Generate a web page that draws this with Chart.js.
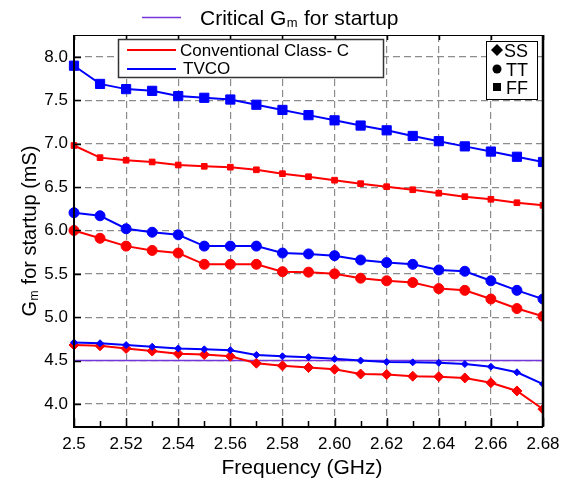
<!DOCTYPE html>
<html>
<head>
<meta charset="utf-8">
<script src="https://cdn.jsdelivr.net/npm/chart.js@4.4.1/dist/chart.umd.min.js"></script>
<style>
  html, body { margin: 0; padding: 0; background: #fff; }
  #wrap { width: 573px; height: 480px; }
</style>
</head>
<body>
<div id="wrap"><canvas id="gmChart" width="573" height="480"></canvas></div>
<script>
'use strict';

// ── DATA ──────────────────────────────────────────────────────────
const FREQ_GHZ = [2.50, 2.51, 2.52, 2.53, 2.54, 2.55, 2.56, 2.57, 2.58, 2.59,
                  2.60, 2.61, 2.62, 2.63, 2.64, 2.65, 2.66, 2.67, 2.68];

const TVCO_FF   = [7.90, 7.69, 7.63, 7.61, 7.55, 7.53, 7.51, 7.45, 7.39, 7.33,
                   7.27, 7.21, 7.155, 7.09, 7.03, 6.97, 6.91, 6.85, 6.79];
const CLASSC_FF = [6.98, 6.84, 6.81, 6.79, 6.755, 6.74, 6.73, 6.70, 6.655, 6.62,
                   6.58, 6.54, 6.505, 6.47, 6.43, 6.39, 6.36, 6.32, 6.29];
const TVCO_TT   = [6.205, 6.17, 6.02, 5.98, 5.95, 5.82, 5.82, 5.82, 5.74, 5.73,
                   5.71, 5.66, 5.63, 5.61, 5.545, 5.53, 5.42, 5.31, 5.21];
const CLASSC_TT = [6.00, 5.91, 5.82, 5.77, 5.74, 5.61, 5.61, 5.61, 5.525, 5.52,
                   5.50, 5.45, 5.42, 5.40, 5.33, 5.31, 5.21, 5.10, 5.01];
const TVCO_SS   = [4.71, 4.70, 4.68, 4.66, 4.64, 4.63, 4.62, 4.565, 4.55, 4.54,
                   4.52, 4.50, 4.485, 4.48, 4.475, 4.46, 4.43, 4.365, 4.23];
const CLASSC_SS = [4.68, 4.67, 4.64, 4.61, 4.58, 4.57, 4.55, 4.47, 4.44, 4.42,
                   4.40, 4.345, 4.34, 4.32, 4.315, 4.30, 4.245, 4.15, 3.94];

const CRITICAL_GM = 4.5;

const X_TICK_VALUES = [2.50, 2.52, 2.54, 2.56, 2.58, 2.60, 2.62, 2.64, 2.66, 2.68];
const X_TICK_LABELS = ['2.5', '2.52', '2.54', '2.56', '2.58', '2.60', '2.62', '2.64', '2.66', '2.68'];
const X_MINOR_TICKS = FREQ_GHZ;
const Y_TICK_VALUES = [4.0, 4.5, 5.0, 5.5, 6.0, 6.5, 7.0, 7.5, 8.0];
const Y_TICK_LABELS = ['4.0', '4.5', '5.0', '5.5', '6.0', '6.5', '7.0', '7.5', '8.0'];

// ── STYLE ─────────────────────────────────────────────────────────
const RED    = '#ff0000';
const BLUE   = '#0000ff';
const PURPLE = '#7436dc';
const FONT   = "'Liberation Sans', Arial, sans-serif";

const toPoints = ys => FREQ_GHZ.map((x, i) => ({ x, y: ys[i] }));

function series(label, ys, color, style, radius) {
  return {
    label,
    data: toPoints(ys),
    borderColor: color,
    backgroundColor: color,
    borderWidth: 2,
    pointStyle: style,
    pointRadius: radius,
    pointBorderWidth: 1,
    pointBorderColor: color,
    pointBackgroundColor: color,
    tension: 0,
    clip: { left: 10, top: 10, right: 0, bottom: 10 }
  };
}

// "G" with a subscript "m", then the rest; returns total width
function gmText(ctx, x, y, size, rest, draw = true) {
  const sub = Math.round(size * 0.62);
  ctx.font = `${size}px ${FONT}`;
  const wG = ctx.measureText('G').width;
  if (draw) ctx.fillText('G', x, y);
  ctx.font = `${sub}px ${FONT}`;
  const wm = ctx.measureText('m').width;
  if (draw) ctx.fillText('m', x + wG + 0.5, y + size * 0.1);
  ctx.font = `${size}px ${FONT}`;
  const wr = ctx.measureText(rest).width;
  if (draw) ctx.fillText(rest, x + wG + wm + 1, y);
  return wG + wm + 1 + wr;
}

// ── FRAME, TICKS, TITLES, LEGENDS ─────────────────────────────────
const decorPlugin = {
  id: 'decor',
  afterDraw(chart) {
    const { ctx, chartArea: a, scales: { x, y } } = chart;
    ctx.save();
    ctx.fillStyle = '#000';
    ctx.strokeStyle = '#000';
    ctx.textBaseline = 'alphabetic';
    ctx.textAlign = 'left';

    // inward ticks
    ctx.lineWidth = 1.5;
    ctx.beginPath();
    X_MINOR_TICKS.forEach(v => {
      const px = Math.round(x.getPixelForValue(v)) + 0.5;
      ctx.moveTo(px, a.bottom); ctx.lineTo(px, a.bottom - 5);
    });
    X_TICK_VALUES.forEach(v => {
      const px = Math.round(x.getPixelForValue(v)) + 0.5;
      ctx.moveTo(px, a.bottom); ctx.lineTo(px, a.bottom - 8);
      ctx.moveTo(px, a.top); ctx.lineTo(px, a.top + 5);
    });
    Y_TICK_VALUES.forEach(v => {
      const py = Math.round(y.getPixelForValue(v)) + 0.5;
      ctx.moveTo(a.left, py); ctx.lineTo(a.left + 7, py);
    });
    ctx.stroke();

    // frame
    ctx.lineWidth = 1;
    ctx.beginPath();
    ctx.moveTo(a.left, a.top + 0.5); ctx.lineTo(a.right, a.top + 0.5);
    ctx.stroke();
    ctx.lineWidth = 2;
    ctx.beginPath();
    ctx.moveTo(a.left, a.top); ctx.lineTo(a.left, a.bottom + 1);
    ctx.lineTo(a.right, a.bottom + 1);
    ctx.stroke();
    ctx.lineWidth = 2.5;
    ctx.beginPath();
    ctx.moveTo(a.right, a.top); ctx.lineTo(a.right, a.bottom + 1);
    ctx.stroke();

    // top legend: critical Gm line
    ctx.strokeStyle = PURPLE;
    ctx.lineWidth = 1.5;
    ctx.beginPath();
    ctx.moveTo(142, 17.5); ctx.lineTo(181, 17.5);
    ctx.stroke();
    ctx.fillStyle = '#000';
    ctx.font = `21px ${FONT}`;
    ctx.fillText('Critical ', 200, 25);
    const wc = ctx.measureText('Critical ').width;
    gmText(ctx, 200 + wc, 25, 21, ' for startup');

    // series legend box
    ctx.fillStyle = '#fff';
    ctx.fillRect(118, 39, 266, 39);
    ctx.strokeStyle = '#333';
    ctx.lineWidth = 1.5;
    ctx.strokeRect(118.5, 39.5, 265, 38);
    ctx.lineWidth = 2;
    ctx.strokeStyle = RED;
    ctx.beginPath(); ctx.moveTo(127, 50); ctx.lineTo(176, 50); ctx.stroke();
    ctx.strokeStyle = BLUE;
    ctx.beginPath(); ctx.moveTo(127, 69); ctx.lineTo(176, 69); ctx.stroke();
    ctx.fillStyle = '#000';
    ctx.font = `17px ${FONT}`;
    ctx.fillText('Conventional Class- C', 180, 56);
    ctx.fillText('TVCO', 183, 74);

    // corner legend box
    ctx.fillStyle = '#fff';
    ctx.fillRect(486, 41, 52, 59);
    ctx.strokeStyle = '#000';
    ctx.lineWidth = 1;
    ctx.strokeRect(486.5, 41.5, 51, 58);
    ctx.fillStyle = '#000';
    ctx.beginPath();
    ctx.moveTo(497, 44); ctx.lineTo(503, 50); ctx.lineTo(497, 56); ctx.lineTo(491, 50);
    ctx.closePath(); ctx.fill();
    ctx.beginPath(); ctx.arc(497, 69, 4.5, 0, Math.PI * 2); ctx.fill();
    ctx.fillRect(493, 83, 8, 8);
    ctx.font = `18px ${FONT}`;
    ctx.fillText('SS', 504, 57);
    ctx.fillText('TT', 506, 76);
    ctx.fillText('FF', 506, 94);

    // axis titles
    ctx.font = `21px ${FONT}`;
    ctx.textAlign = 'center';
    ctx.fillText('Frequency (GHz)', 302, 474);
    ctx.textAlign = 'left';
    ctx.translate(36, 231);
    ctx.rotate(-Math.PI / 2);
    const w = gmText(ctx, 0, 0, 20, ' for startup (mS)', false);
    gmText(ctx, -w / 2, 0, 20, ' for startup (mS)');
    ctx.restore();
  }
};

// ── CHART ─────────────────────────────────────────────────────────
const datasets = [
  series('TVCO FF', TVCO_FF, BLUE, 'rect', 6.5),
  series('Conventional Class- C FF', CLASSC_FF, RED, 'rect', 4),
  series('TVCO TT', TVCO_TT, BLUE, 'circle', 5),
  series('Conventional Class- C TT', CLASSC_TT, RED, 'circle', 5),
  series('TVCO SS', TVCO_SS, BLUE, 'rectRot', 3.5),
  series('Conventional Class- C SS', CLASSC_SS, RED, 'rectRot', 5),
  {
    label: 'Critical Gm for startup',
    data: [{ x: FREQ_GHZ[0], y: CRITICAL_GM }, { x: FREQ_GHZ[FREQ_GHZ.length - 1], y: CRITICAL_GM }],
    borderColor: PURPLE,
    borderWidth: 1.5,
    pointRadius: 0
  }
];

new Chart(document.getElementById('gmChart').getContext('2d'), {
  type: 'line',
  data: { datasets },
  options: {
    responsive: false,
    animation: false,
    layout: { padding: { left: 0, right: 30, top: 35, bottom: 0 } },
    plugins: { legend: { display: false }, tooltip: { enabled: false } },
    scales: {
      x: {
        type: 'linear',
        min: 2.5,
        max: 2.68,
        afterBuildTicks: s => { s.ticks = X_TICK_VALUES.map(value => ({ value })); },
        afterFit: s => { s.height = 54; },
        grid: { color: '#8c8c8c', lineWidth: 1.2, drawTicks: false },
        border: { display: false, dash: [7, 4] },
        ticks: {
          padding: 8,
          color: '#000',
          font: { family: FONT, size: 17 },
          maxRotation: 0,
          autoSkip: false,
          callback: (v, i) => X_TICK_LABELS[i]
        }
      },
      y: {
        min: 3.746,
        max: 8.254,
        afterBuildTicks: s => { s.ticks = Y_TICK_VALUES.map(value => ({ value })); },
        afterFit: s => { s.width = 74; },
        grid: { color: '#8c8c8c', lineWidth: 1.2, drawTicks: false },
        border: { display: false, dash: [7, 4] },
        ticks: {
          padding: 6,
          color: '#000',
          font: { family: FONT, size: 17 },
          autoSkip: false,
          callback: (v, i) => Y_TICK_LABELS[i]
        }
      }
    }
  },
  plugins: [decorPlugin]
});
</script>
</body>
</html>
